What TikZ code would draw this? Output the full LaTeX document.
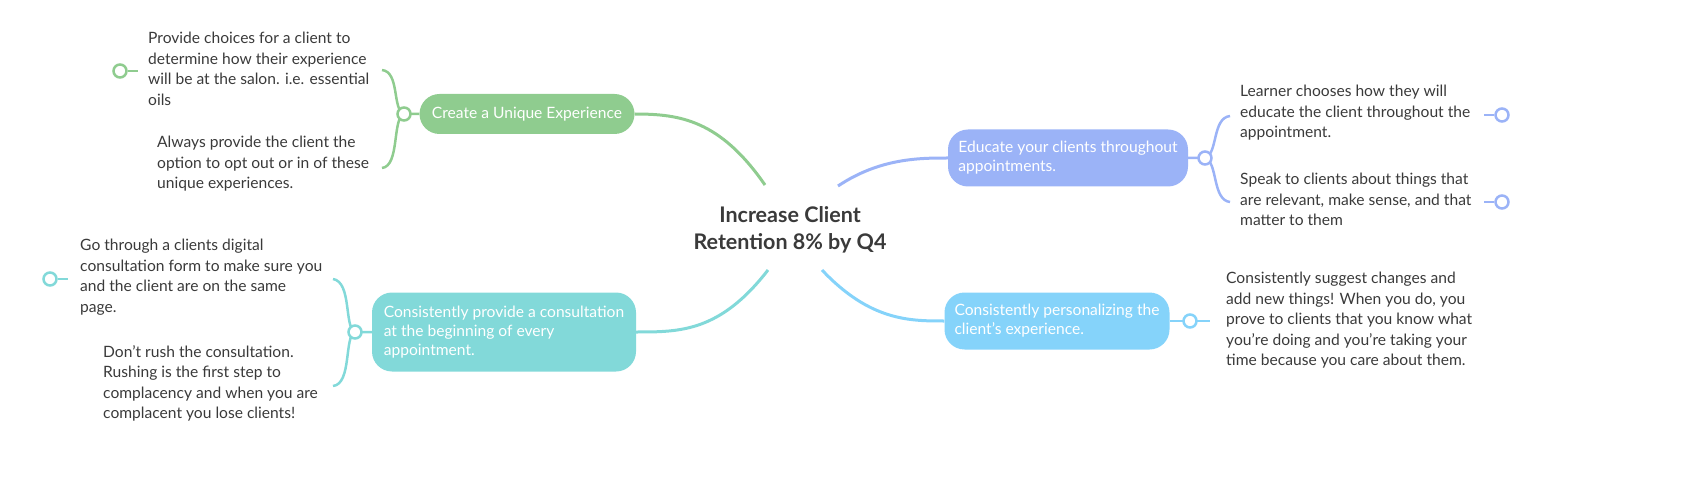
\documentclass[tikz,border=0pt]{standalone}
\usepackage{fontspec}
\setmainfont{Lato}
\usetikzlibrary{positioning}
\definecolor{cgreen}{HTML}{8FCC8F}
\definecolor{cviolet}{HTML}{9BB3F7}
\definecolor{csky}{HTML}{85D3FA}
\definecolor{cteal}{HTML}{82D9D9}
\definecolor{ctext}{HTML}{3A3A3A}
\begin{document}
\begin{tikzpicture}
[x=1pt,y=-1pt,
 topic/.style={rounded corners=20pt, minimum height=40pt, text=white, font=\fontsize{15.6}{19}\selectfont, align=left, inner xsep=10pt},
 leaf/.style={text=ctext, font=\fontsize{15.6}{20.5}\selectfont, align=left, anchor=north west, inner sep=0pt},
 knob/.style={circle, draw, line width=2.5pt, fill=white, minimum size=13pt, inner sep=0pt},
 dot/.style={circle, draw, line width=2.5pt, fill=white, minimum size=13pt, inner sep=0pt, path picture={\fill (path picture bounding box.center) circle (2.2pt);}},
 link/.style={line width=3pt},
]
\useasboundingbox (0,0) rectangle (1707,494);
\node[font=\bfseries\fontsize{21.5}{27}\selectfont, text=ctext, align=center] (root) at (790,230) {Increase Client\\Retention 8\% by Q4};

% topics
\node[topic, fill=cgreen, minimum width=215pt] (exp) at (527,114) {Create a Unique Experience};
\node[topic, fill=cviolet, minimum width=240pt, minimum height=57pt] (edu) at (1068,158) {Educate your clients throughout\\appointments.};
\node[topic, fill=csky, minimum width=222pt, minimum height=57pt] (per) at (1057,321) {Consistently personalizing the\\client’s experience.};
\node[topic, fill=cteal, minimum width=264pt, minimum height=79pt] (con) at (504,332) {Consistently provide a consultation\\at the beginning of every\\appointment.};

% connectors from the root
\draw[link, cgreen] (765,185) .. controls (720,120) and (680,114) .. (exp.east);
\draw[link, cviolet] (838,186) .. controls (880,158) and (920,158) .. (edu.west);
\draw[link, csky] (822,270) .. controls (870,321) and (910,321) .. (per.west);
\draw[link, cteal] (768,270) .. controls (720,332) and (680,332) .. (con.east);

% leaves
\node[leaf] (exp1) at (148,32) {Provide choices for a client to\\determine how their experience\\will be at the salon. i.e. essential\\oils};
\node[leaf] (exp2) at (157,136) {Always provide the client the\\option to opt out or in of these\\unique experiences.};
\node[leaf] (edu1) at (1240,85) {Learner chooses how they will\\educate the client throughout the\\appointment.};
\node[leaf] (edu2) at (1240,173) {Speak to clients about things that\\are relevant, make sense, and that\\matter to them};
\node[leaf] (per1) at (1226,272) {Consistently suggest changes and\\add new things! When you do, you\\prove to clients that you know what\\you’re doing and you’re taking your\\time because you care about them.};
\node[leaf] (con1) at (80,239) {Go through a clients digital\\consultation form to make sure you\\and the client are on the same\\page.};
\node[leaf] (con2) at (103,345) {Don't rush the consultation.\\Rushing is the first step to\\complacency and when you are\\complacent you lose clients!};

% brackets and knobs
\draw[line width=2.5pt, cgreen] (exp.west) -- (404,114) (382,70) .. controls (400,72) and (392,110) .. (404,114) .. controls (392,118) and (400,166) .. (382,168);
\node[knob, draw=cgreen] (expk) at (404,114) {};
\draw[line width=2.5pt, cviolet] (edu.east) -- (1205,158) (1230,116) .. controls (1212,118) and (1218,154) .. (1205,158) .. controls (1218,162) and (1212,200) .. (1230,202);
\node[knob, draw=cviolet] (eduk) at (1205,158) {};
\draw[line width=2.5pt, csky] (per.east) -- (1210,321);
\node[knob, draw=csky] (perk) at (1190,321) {};
\draw[line width=2.5pt, cteal] (con.west) -- (355,332) (333,279) .. controls (352,282) and (344,328) .. (355,332) .. controls (344,336) and (352,384) .. (333,386);
\node[knob, draw=cteal] (conk) at (355,332) {};

% end dots
\node[dot, draw=cgreen, text=cgreen] (expd) at (120,71) {};
\draw[line width=2.5pt, cgreen] (expd) -- (138,71);
\node[dot, draw=cviolet, text=cviolet] (edud1) at (1502,115) {};
\draw[line width=2.5pt, cviolet] (1484,115) -- (edud1);
\node[dot, draw=cviolet, text=cviolet] (edud2) at (1502,202) {};
\draw[line width=2.5pt, cviolet] (1484,202) -- (edud2);
\node[dot, draw=cteal, text=cteal] (cond) at (50,279) {};
\draw[line width=2.5pt, cteal] (cond) -- (68,279);
\end{tikzpicture}
\end{document}
